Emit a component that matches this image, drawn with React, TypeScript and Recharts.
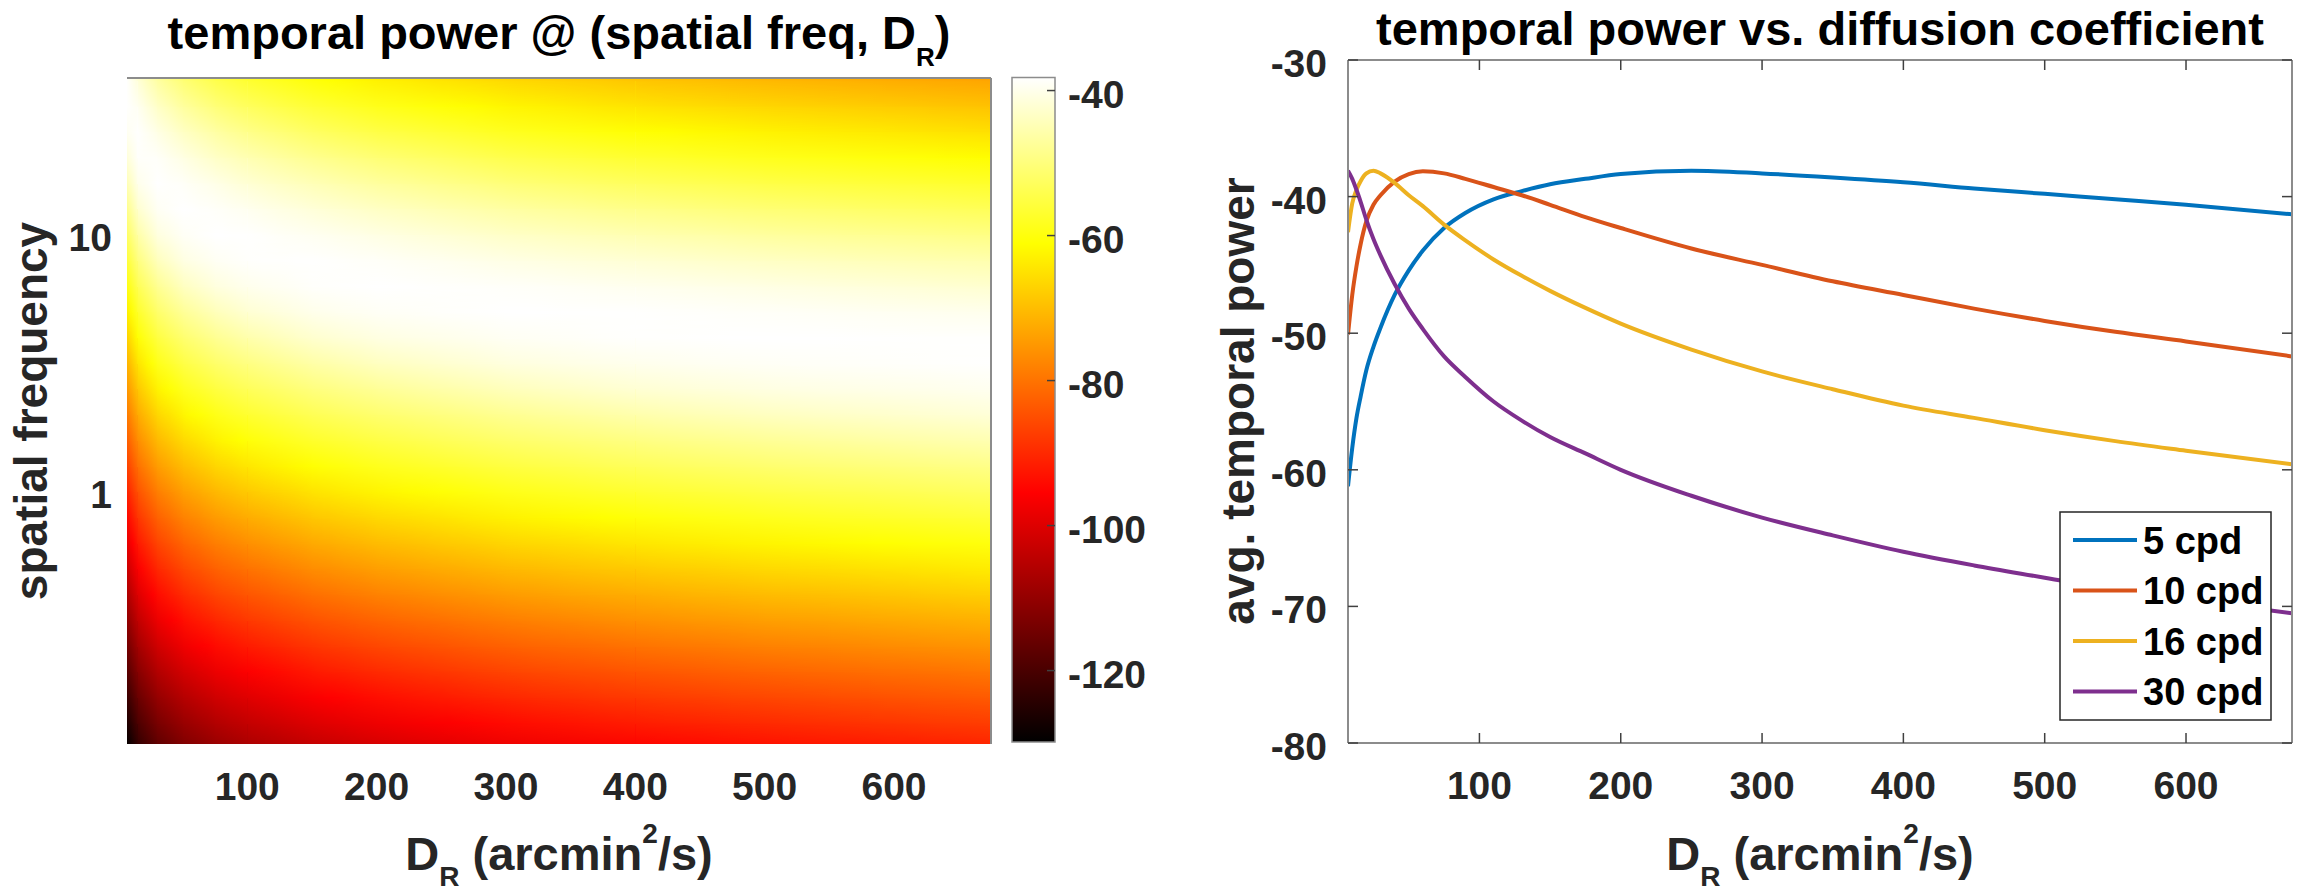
import React from 'react';
import { ComposedChart, LineChart, Line, XAxis, YAxis, ReferenceArea } from 'recharts';

const FONT = '"Liberation Sans", Arial, Helvetica, sans-serif';
const TXT = '#262626';
const BOX = '#8c8c8c';

// ---------- right panel: avg temporal power vs diffusion coefficient ----------
const diffusionD = [7, 10, 13, 16, 20, 25, 30, 40, 50, 60, 75, 90, 110, 130, 150, 175, 200, 250, 300, 350, 400, 450, 500, 550, 600, 675];
const power5cpd = [-61.2, -58.4, -56.2, -54.6, -52.7, -51.0, -49.6, -47.2, -45.4, -43.95, -42.3, -41.2, -40.2, -39.6, -39.1, -38.7, -38.35, -38.1, -38.3, -38.6, -38.95, -39.4, -39.8, -40.2, -40.6, -41.3];
const power10cpd = [-50.1, -47.2, -45.1, -43.45, -41.8, -40.6, -39.9, -38.9, -38.35, -38.15, -38.3, -38.7, -39.3, -39.9, -40.6, -41.5, -42.3, -43.8, -45.0, -46.2, -47.2, -48.2, -49.1, -49.9, -50.6, -51.7];
const power16cpd = [-42.6, -40.5, -39.5, -38.85, -38.3, -38.1, -38.3, -39.0, -39.9, -40.7, -42.05, -43.2, -44.6, -45.8, -46.9, -48.15, -49.3, -51.2, -52.8, -54.1, -55.3, -56.2, -57.1, -57.9, -58.6, -59.6];
const power30cpd = [-38.1, -38.7, -39.5, -40.4, -41.7, -43.1, -44.3, -46.4, -48.2, -49.7, -51.7, -53.2, -55.0, -56.4, -57.6, -58.8, -60.0, -61.9, -63.5, -64.8, -66.0, -67.0, -67.9, -68.8, -69.5, -70.5];
const seriesNames = ['5 cpd', '10 cpd', '16 cpd', '30 cpd'];
const seriesKeys = ['p5', 'p10', 'p16', 'p30'];
const seriesColors = ['#0072BD', '#D95319', '#EDB120', '#7E2F8E'];

const xTicks = [100, 200, 300, 400, 500, 600];
const xDomain = [7, 675];
const lineYTicks = [-80, -70, -60, -50, -40, -30];
const lineYDomain = [-80, -30];

// ---------- left panel: heat map of temporal power (dB) ----------
const heatD = [7, 15, 30, 50, 75, 100, 150, 200, 300, 400, 500, 675];
const heatK = [0.1, 0.1259, 0.1585, 0.1995, 0.2512, 0.3162, 0.3981, 0.5012, 0.631, 0.7943, 1, 1.259, 1.585, 1.995, 2.512, 3.162, 3.981, 5.012, 6.31, 7.943, 10, 12.59, 15.85, 19.95, 25.12, 31.62, 39.81, 50.12];
// one column per heatD value, rows follow heatK
const heatD7 = [-130.0, -126.1, -122.2, -118.3, -114.4, -110.5, -106.5, -102.6, -98.7, -94.8, -90.9, -86.9, -83.0, -79.1, -75.2, -71.3, -67.3, -63.4, -59.6, -55.9, -52.2, -48.6, -44.8, -41.5, -39.4, -38.3, -38.5, -40.1];
const heatD15 = [-123.6, -119.6, -115.7, -111.8, -107.9, -104.0, -100.0, -96.1, -92.2, -88.3, -84.4, -80.4, -76.5, -72.6, -68.7, -64.8, -60.9, -57.2, -53.5, -49.8, -46.1, -42.5, -40.0, -38.6, -38.25, -39.45, -41.7, -44.7];
const heatD30 = [-117.7, -113.7, -109.8, -105.9, -102.0, -98.1, -94.1, -90.2, -86.3, -82.4, -78.5, -74.5, -70.6, -66.7, -62.8, -59.0, -55.3, -51.6, -48.0, -44.2, -41.1, -39.2, -38.2, -38.7, -40.5, -43.2, -46.5, -50.3];
const heatD50 = [-113.3, -109.4, -105.5, -101.6, -97.6, -93.7, -89.8, -85.9, -82.0, -78.0, -74.1, -70.2, -66.3, -62.4, -58.6, -54.9, -51.2, -47.5, -43.8, -40.8, -39.0, -38.15, -38.85, -40.7, -43.5, -46.9, -50.7, -54.7];
const heatD75 = [-109.9, -105.9, -102.0, -98.1, -94.2, -90.3, -86.3, -82.4, -78.5, -74.6, -70.7, -66.7, -62.8, -59.1, -55.4, -51.7, -48.0, -44.3, -41.1, -39.2, -38.2, -38.7, -40.4, -43.2, -46.4, -50.3, -54.3, -58.3];
const heatD100 = [-107.4, -103.5, -99.6, -95.7, -91.8, -87.8, -83.9, -80.0, -76.1, -72.2, -68.2, -64.3, -60.4, -56.7, -53.0, -49.4, -45.6, -42.1, -39.8, -38.45, -38.3, -39.65, -42.1, -45.1, -48.8, -52.8, -56.8, -60.8];
const heatD150 = [-104.0, -100.0, -96.1, -92.2, -88.3, -84.4, -80.4, -76.5, -72.6, -68.7, -64.8, -60.9, -57.2, -53.5, -49.8, -46.1, -42.5, -40.0, -38.6, -38.25, -39.45, -41.7, -44.7, -48.3, -52.3, -56.3, -60.3, -64.3];
const heatD200 = [-101.5, -97.6, -93.7, -89.8, -85.9, -82.0, -78.0, -74.1, -70.2, -66.3, -62.4, -58.6, -54.9, -51.2, -47.5, -43.8, -40.8, -39.0, -38.15, -38.85, -40.7, -43.5, -46.9, -50.7, -54.8, -58.8, -62.8, -66.8];
const heatD300 = [-98.1, -94.1, -90.2, -86.3, -82.4, -78.5, -74.5, -70.6, -66.7, -62.8, -59.0, -55.3, -51.6, -48.0, -44.2, -41.1, -39.2, -38.2, -38.7, -40.5, -43.2, -46.5, -50.3, -54.3, -58.3, -62.3, -66.3, -70.3];
const heatD400 = [-95.6, -91.7, -87.8, -83.9, -80.0, -76.0, -72.1, -68.2, -64.3, -60.4, -56.7, -53.0, -49.4, -45.6, -42.1, -39.8, -38.4, -38.3, -39.7, -42.1, -45.2, -48.8, -52.8, -56.8, -60.8, -64.8, -68.8, -72.8];
const heatD500 = [-93.7, -89.8, -85.9, -82.0, -78.0, -74.1, -70.2, -66.3, -62.4, -58.6, -54.9, -51.2, -47.5, -43.8, -40.8, -39.0, -38.15, -38.85, -40.7, -43.5, -46.9, -50.7, -54.7, -58.7, -62.7, -66.7, -70.7, -74.7];
const heatD675 = [-91.2, -87.2, -83.3, -79.4, -75.5, -71.6, -67.6, -63.7, -59.9, -56.2, -52.5, -48.9, -45.1, -41.7, -39.55, -38.3, -38.4, -39.9, -42.5, -45.6, -49.3, -53.3, -57.3, -61.3, -65.3, -69.3, -73.3, -77.3];
const heatColumns = [heatD7, heatD15, heatD30, heatD50, heatD75, heatD100, heatD150, heatD200, heatD300, heatD400, heatD500, heatD675];

const heatYTicks = [1, 10];
const heatYDomain = [0.104, 40.5];
const colorLimits = [-129.85, -38.2];
const colorbarTicks = [-120, -100, -80, -60, -40];

// MATLAB "hot" colormap
function hot(v: number): string {
  let t = (v - colorLimits[0]) / (colorLimits[1] - colorLimits[0]);
  t = Math.max(0, Math.min(1, t));
  const r = Math.min(1, t / 0.375);
  const g = Math.max(0, Math.min(1, (t - 0.375) / 0.375));
  const b = Math.max(0, Math.min(1, (t - 0.75) / 0.25));
  return `rgb(${Math.round(r * 255)},${Math.round(g * 255)},${Math.round(b * 255)})`;
}

const tickStyle: React.CSSProperties = { fontFamily: FONT, fontWeight: 700, fontSize: 39, fill: TXT };

function Defs() {
  const grads: React.ReactNode[] = [];
  for (let r = 0; r < heatK.length; r++) {
    for (let c = 0; c < heatD.length - 1; c++) {
      const a = heatColumns[c][r];
      const b = heatColumns[c + 1][r];
      const stops = [0, 0.25, 0.5, 0.75, 1];
      grads.push(
        <linearGradient key={`g${r}_${c}`} id={`hg${r}_${c}`} x1="0" y1="0" x2="1" y2="0">
          {stops.map((s) => (
            <stop key={s} offset={s} stopColor={hot(a + (b - a) * s)} />
          ))}
        </linearGradient>
      );
    }
  }
  const cbStops = [1, 0.875, 0.75, 0.5625, 0.375, 0.1875, 0];
  return (
    <svg width={0} height={0} style={{ position: 'absolute', left: 0, top: 0 }}>
      <defs>
        {grads}
        <linearGradient id="vfadeGrad" x1="0" y1="0" x2="0" y2="1">
          <stop offset="0" stopColor="#fff" stopOpacity={1} />
          <stop offset="1" stopColor="#fff" stopOpacity={0} />
        </linearGradient>
        <mask id="vfade" maskContentUnits="objectBoundingBox" style={{ maskType: 'alpha' } as any}>
          <rect x="0" y="0" width="1" height="1" fill="url(#vfadeGrad)" />
        </mask>
        <linearGradient id="cbarGrad" x1="0" y1="0" x2="0" y2="1">
          {cbStops.map((t) => (
            <stop key={t} offset={1 - t} stopColor={hot(colorLimits[0] + t * (colorLimits[1] - colorLimits[0]))} />
          ))}
        </linearGradient>
      </defs>
    </svg>
  );
}

function HeatCell(p: any) {
  const { x, y, width, height, r, c, clipPath } = p;
  if (!(width > 0 && height > 0)) return null;
  return (
    <g clipPath={clipPath}>
      <rect x={x} y={y} width={width + 1} height={height + 1} fill={`url(#hg${r}_${c})`} shapeRendering="crispEdges" />
      <rect x={x} y={y} width={width + 1} height={height + 1} fill={`url(#hg${r + 1}_${c})`} mask="url(#vfade)" shapeRendering="crispEdges" />
    </g>
  );
}

const HeatXTick = (p: any) => (
  <text x={p.x} y={p.y + 56} textAnchor="middle" style={tickStyle}>{p.payload.value}</text>
);
const HeatYTick = (p: any) => (
  <text x={p.x - 15} y={p.y + 17} textAnchor="end" style={tickStyle}>{p.payload.value}</text>
);
const CbarTick = (p: any) => (
  <g>
    <line x1={p.x - 8} y1={p.y} x2={p.x} y2={p.y} stroke="#404040" strokeWidth={1.5} />
    <text x={p.x + 13} y={p.y + 17} textAnchor="start" style={tickStyle}>{p.payload.value}</text>
  </g>
);
const LineXTick = (p: any) => (
  <g>
    <line x1={p.x} y1={p.y} x2={p.x} y2={p.y - 10} stroke="#404040" strokeWidth={1.5} />
    <text x={p.x} y={p.y + 56} textAnchor="middle" style={tickStyle}>{p.payload.value}</text>
  </g>
);
const LineTopTick = (p: any) => (
  <line x1={p.x} y1={p.y} x2={p.x} y2={p.y + 10} stroke="#404040" strokeWidth={1.5} />
);
const LineYTick = (p: any) => (
  <g>
    <line x1={p.x} y1={p.y} x2={p.x + 10} y2={p.y} stroke="#404040" strokeWidth={1.5} />
    <text x={p.x - 21} y={p.y + 17} textAnchor="end" style={tickStyle}>{p.payload.value}</text>
  </g>
);
const LineRightTick = (p: any) => (
  <line x1={p.x} y1={p.y} x2={p.x - 10} y2={p.y} stroke="#404040" strokeWidth={1.5} />
);

const noTickLine = { tickLine: false, tickSize: 0, tickMargin: 0 } as const;

function HeatChart() {
  const cells: React.ReactNode[] = [];
  for (let r = 0; r < heatK.length - 1; r++) {
    for (let c = 0; c < heatD.length - 1; c++) {
      cells.push(
        <ReferenceArea
          key={`c${r}_${c}`}
          x1={heatD[c]}
          x2={heatD[c + 1]}
          y1={heatK[r]}
          y2={heatK[r + 1]}
          ifOverflow="hidden"
          shape={(p: any) => <HeatCell {...p} r={r} c={c} />}
        />
      );
    }
  }
  const data = heatD.map((d) => ({ D: d }));
  return (
    <ComposedChart width={1000} height={894} data={data} margin={{ top: 77, left: 126, right: 8, bottom: 149 }}>
      <XAxis dataKey="D" type="number" domain={xDomain} ticks={xTicks} interval={0} height={1} axisLine={false} {...noTickLine} tick={HeatXTick} allowDataOverflow />
      <XAxis xAxisId="top" orientation="top" dataKey="D" type="number" domain={xDomain} height={1} axisLine={{ stroke: BOX, strokeWidth: 2 }} {...noTickLine} tick={false} allowDataOverflow />
      <YAxis type="number" scale="log" domain={heatYDomain} ticks={heatYTicks} interval={0} width={1} axisLine={false} {...noTickLine} tick={HeatYTick} allowDataOverflow />
      <YAxis yAxisId="r" orientation="right" type="number" scale="log" domain={heatYDomain} width={1} axisLine={{ stroke: BOX, strokeWidth: 2 }} {...noTickLine} tick={false} allowDataOverflow />
      {cells}
    </ComposedChart>
  );
}

function ColorbarChart() {
  const data = [{ u: 0 }, { u: 1 }];
  return (
    <ComposedChart width={200} height={894} data={data} margin={{ top: 77.5, left: 12, right: 144, bottom: 152 }}>
      <XAxis dataKey="u" type="number" domain={[0, 1]} hide />
      <YAxis orientation="right" type="number" domain={colorLimits} ticks={colorbarTicks} interval={0} width={1} axisLine={false} {...noTickLine} tick={CbarTick} allowDataOverflow />
      <ReferenceArea x1={0} x2={1} y1={colorLimits[0]} y2={colorLimits[1]} fill="url(#cbarGrad)" fillOpacity={1} stroke={BOX} strokeWidth={1.5} ifOverflow="visible" />
    </ComposedChart>
  );
}

function PowerChart() {
  const data = diffusionD.map((d, i) => ({ D: d, p5: power5cpd[i], p10: power10cpd[i], p16: power16cpd[i], p30: power30cpd[i] }));
  return (
    <LineChart width={1106} height={894} data={data} margin={{ top: 59, left: 147, right: 13, bottom: 150 }}>
      <XAxis dataKey="D" type="number" domain={xDomain} ticks={xTicks} interval={0} height={1} axisLine={{ stroke: BOX, strokeWidth: 2 }} {...noTickLine} tick={LineXTick} allowDataOverflow />
      <XAxis xAxisId="top" orientation="top" dataKey="D" type="number" domain={xDomain} ticks={xTicks} interval={0} height={1} axisLine={{ stroke: BOX, strokeWidth: 2 }} {...noTickLine} tick={LineTopTick} allowDataOverflow />
      <YAxis type="number" domain={lineYDomain} ticks={lineYTicks} interval={0} width={1} axisLine={{ stroke: BOX, strokeWidth: 2 }} {...noTickLine} tick={LineYTick} allowDataOverflow />
      <YAxis yAxisId="r" orientation="right" type="number" domain={lineYDomain} ticks={lineYTicks} interval={0} width={1} axisLine={{ stroke: BOX, strokeWidth: 2 }} {...noTickLine} tick={LineRightTick} allowDataOverflow />
      {seriesKeys.map((k, i) => (
        <Line key={k} dataKey={k} name={seriesNames[i]} type="monotone" stroke={seriesColors[i]} strokeWidth={4} dot={false} activeDot={false} isAnimationActive={false} />
      ))}
    </LineChart>
  );
}

const titleStyle: React.CSSProperties = { fontFamily: FONT, fontWeight: 700, fontSize: 47, fill: '#000', whiteSpace: 'pre' };
const labelStyle: React.CSSProperties = { fontFamily: FONT, fontWeight: 700, fontSize: 46, fill: TXT, whiteSpace: 'pre' };

function XLabel({ x }: { x: number }) {
  return (
    <text x={x} y={870} textAnchor="middle" style={{ ...labelStyle, fontSize: 47 }}>
      D<tspan dy={16} fontSize={28}>R</tspan>
      <tspan dy={-16}> (arcmin</tspan>
      <tspan dy={-27} fontSize={28}>2</tspan>
      <tspan dy={27}>/s)</tspan>
    </text>
  );
}

function Overlay() {
  return (
    <svg width={2306} height={894} style={{ position: 'absolute', left: 0, top: 0, pointerEvents: 'none' }}>
      <text x={559} y={49} textAnchor="middle" style={titleStyle}>
        temporal power @ (spatial freq, D<tspan dy={17} fontSize={26}>R</tspan>
        <tspan dy={-17}>)</tspan>
      </text>
      <text x={1820} y={45} textAnchor="middle" style={titleStyle}>temporal power vs. diffusion coefficient</text>
      <XLabel x={559} />
      <XLabel x={1820} />
      <text transform="translate(47,411) rotate(-90)" textAnchor="middle" style={labelStyle}>spatial frequency</text>
      <text transform="translate(1254,401) rotate(-90)" textAnchor="middle" style={labelStyle}>avg. temporal power</text>
      <g>
        <rect x={2060} y={512} width={211} height={208} fill="#fff" stroke="#262626" strokeWidth={1.5} />
        {seriesNames.map((n, i) => {
          const cy = 540 + i * 50.5;
          return (
            <g key={n}>
              <line x1={2073} y1={cy} x2={2137} y2={cy} stroke={seriesColors[i]} strokeWidth={4} />
              <text x={2143} y={cy + 13.5} style={{ fontFamily: FONT, fontWeight: 700, fontSize: 38, fill: '#000' }}>{n}</text>
            </g>
          );
        })}
      </g>
    </svg>
  );
}

export default function App() {
  return (
    <div style={{ position: 'absolute', left: 0, top: 0, width: 2306, height: 894, background: '#fff', overflow: 'hidden' }}>
      <Defs />
      <div style={{ position: 'absolute', left: 0, top: 0 }}>
        <HeatChart />
      </div>
      <div style={{ position: 'absolute', left: 1000, top: 0 }}>
        <ColorbarChart />
      </div>
      <div style={{ position: 'absolute', left: 1200, top: 0 }}>
        <PowerChart />
      </div>
      <Overlay />
    </div>
  );
}
